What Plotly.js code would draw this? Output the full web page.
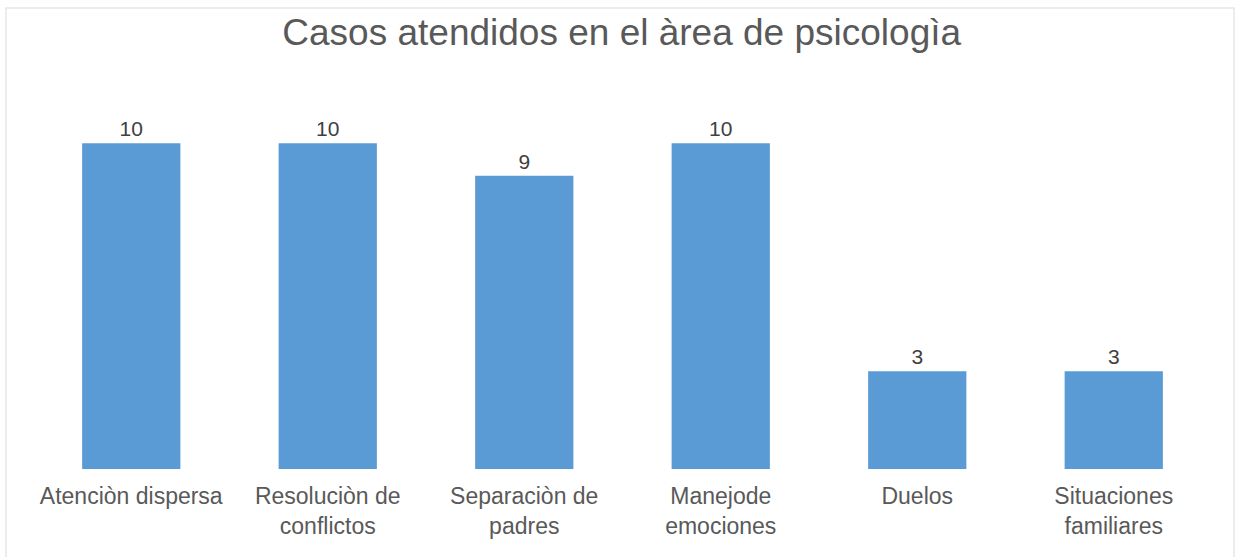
<!DOCTYPE html>
<html>
<head>
<meta charset="utf-8">
<script src="https://cdn.plot.ly/plotly-3.0.1.min.js"></script>
<style>html,body{margin:0;padding:0;background:#fff;}#chart{width:1236px;height:557px;}</style>
</head>
<body>
<div id="chart"></div>
<script>
const categories = ["Atenciòn dispersa", "Resoluciòn de<br>conflictos", "Separaciòn de<br>padres", "Manejode<br>emociones", "Duelos", "Situaciones<br>familiares"];
const values = [10, 10, 9, 10, 3, 3];
const chartTitle = "Casos atendidos en el àrea de psicologìa";

const W = 1236, H = 557;
const m = {l: 33, r: 24, t: 78, b: 88};
const pw = W - m.l - m.r, ph = H - m.t - m.b;
function px(x){ return (x - m.l) / pw; }
function py(y){ return (H - m.b - y) / ph; }

const trace = {
  type: "bar",
  x: categories,
  y: values,
  width: 0.5,
  marker: {color: "#5b9bd5"},
  text: values.map(String),
  textposition: "outside",
  cliponaxis: false,
  textfont: {family: "Liberation Sans, Arial, sans-serif", size: 21, color: "#404040"},
  hoverinfo: "none"
};

const layout = {
  width: W, height: H,
  margin: m,
  paper_bgcolor: "#ffffff",
  plot_bgcolor: "#ffffff",
  showlegend: false,
  bargap: 0.5,
  title: {
    text: chartTitle,
    x: 0.503, xanchor: "center",
    y: 0.942, yanchor: "middle",
    font: {family: "Liberation Sans, Arial, sans-serif", size: 37, color: "#595959"}
  },
  xaxis: {
    showgrid: false, zeroline: false, showline: false, ticks: "",
    tickfont: {family: "Liberation Sans, Arial, sans-serif", size: 23, color: "#595959"},
    ticklabelstandoff: 11,
    automargin: false
  },
  yaxis: {
    range: [0, 12], visible: false, showgrid: false, zeroline: false, fixedrange: true
  },
  shapes: [{
    type: "rect", xref: "paper", yref: "paper",
    x0: px(6), x1: px(1234), y0: py(560), y1: py(8),
    line: {color: "#e6e6e6", width: 1.5}, fillcolor: "rgba(0,0,0,0)", layer: "below"
  }]
};

Plotly.newPlot("chart", [trace], layout, {displayModeBar: false, staticPlot: true});
</script>
</body>
</html>
